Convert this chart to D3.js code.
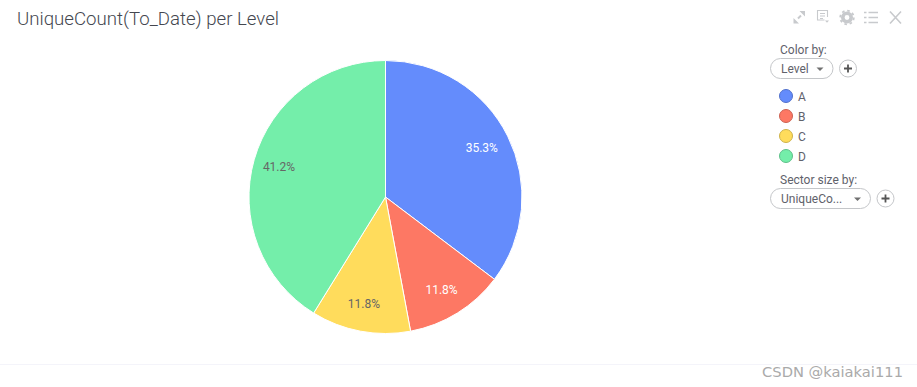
<!DOCTYPE html>
<html><head><meta charset="utf-8">
<script src="https://cdn.jsdelivr.net/npm/d3@7"></script>
<style>html,body{margin:0;background:#fff}svg{display:block}text{font-family:Roboto,sans-serif}</style>
</head><body><svg id="c" width="917" height="387"></svg>
<script>
const categories = ["A","B","C","D"];
const values = [6,2,2,7];
const labels = ["35.3%","11.8%","11.8%","41.2%"];
const colors = ["#648cfc","#fd7864","#ffdc5c","#74eeaa"];
const labelColors = ["#fff","#fff","#666","#666"];
const svg = d3.select("#c");
svg.append("text").attr("x",17).attr("y",25).attr("font-size",18.65).attr("font-weight",300).attr("fill","#44474f").text("UniqueCount(To_Date) per Level");

// pie
const g = svg.append("g").attr("transform","translate(385.5,197)");
const pie = d3.pie().sort(null)(values);
const R = 136.5;
const arc = d3.arc().innerRadius(0).outerRadius(R);
const lab = d3.arc().innerRadius(R*0.8).outerRadius(R*0.8);
g.selectAll("path").data(pie).join("path").attr("d",arc).attr("fill",(d,i)=>colors[i]).attr("stroke","#fff").attr("stroke-width",1);
g.selectAll("text").data(pie).join("text")
 .attr("x",d=>lab.centroid(d)[0]-1.5).attr("y",d=>lab.centroid(d)[1]+4)
 .attr("text-anchor","middle").attr("font-size",12).attr("fill",(d,i)=>labelColors[i]).text((d,i)=>labels[i]);

// toolbar icons
const ic = svg.append("g").attr("stroke","#c8cacd").attr("fill","none").attr("stroke-width",1.5);
ic.append("path").attr("d","M798 18.5L801 15.5").attr("stroke-width",2);
ic.append("path").attr("d","M799.5 11H805V16.5ZM799 23.5H793.5V18Z").attr("fill","#c8cacd").attr("stroke","none");
ic.append("path").attr("d","M824.5 20H817.5V10.5H827.5V17M820 13.5H825M820 16H825M820 18.5H823").attr("stroke-width",1.1);
ic.append("path").attr("d","M825 20.5h4l-2 2.2z").attr("fill","#c8cacd").attr("stroke","none");
ic.append("circle").attr("cx",847).attr("cy",17.5).attr("r",4.2).attr("stroke-width",3.6);
ic.append("circle").attr("cx",847).attr("cy",17.5).attr("r",6.8).attr("stroke-width",1.8).attr("stroke-dasharray","2.6 2.74");
ic.append("path").attr("d","M864 12.5H866.5M868.5 12.5H878M864 17.5H866.5M868.5 17.5H878M864 22.5H866.5M868.5 22.5H878");
ic.append("path").attr("d","M890 11.5L901 23.5M901 11.5L890 23.5").attr("stroke-width",1.6);

// legend controls
function txt(x,y,t,size,fill){return svg.append("text").attr("x",x).attr("y",y).attr("font-size",size||12).attr("fill",fill||"#5f626b").text(t);}
function pill(x,y,w,t,tx){
  svg.append("rect").attr("x",x).attr("y",y).attr("width",w).attr("height",20).attr("rx",10).attr("fill","#fff").attr("stroke","#c4c6c9");
  txt(tx,y+14,t);
  const ax=x+w-13;
  svg.append("path").attr("d",`M${ax-3.5} ${y+9}h7l-3.5 3.5z`).attr("fill","#707070");
  const px=x+w+15, py=y+10;
  svg.append("circle").attr("cx",px).attr("cy",py).attr("r",8.5).attr("fill","#fff").attr("stroke","#c4c6c9");
  svg.append("path").attr("d",`M${px-4} ${py}H${px+4}M${px} ${py-4}V${py+4}`).attr("stroke","#555").attr("stroke-width",1.8);
}
txt(780,54,"Color by:");
pill(770.5,58.5,62.5,"Level",781);
const y = d3.scalePoint().domain(categories).range([96,156]);
categories.forEach((c,i)=>{
  svg.append("circle").attr("cx",786).attr("cy",y(c)).attr("r",6.5).attr("fill",colors[i]).attr("stroke",d3.color(colors[i]).darker(0.6)).attr("stroke-width",1);
  txt(798,y(c)+4.5,c);
});
txt(780,183.5,"Sector size by:");
pill(770.5,188.5,100,"UniqueCo...",781);

// footer
svg.append("line").attr("x1",0).attr("x2",917).attr("y1",364.5).attr("y2",364.5).attr("stroke","#f4f4fa");
svg.append("text").attr("x",903).attr("y",377).attr("text-anchor","end").attr("font-size",14.7).attr("fill","#aaaaaa").attr("style","font-family:'DejaVu Sans',sans-serif").text("CSDN @kaiakai111");
</script></body></html>
